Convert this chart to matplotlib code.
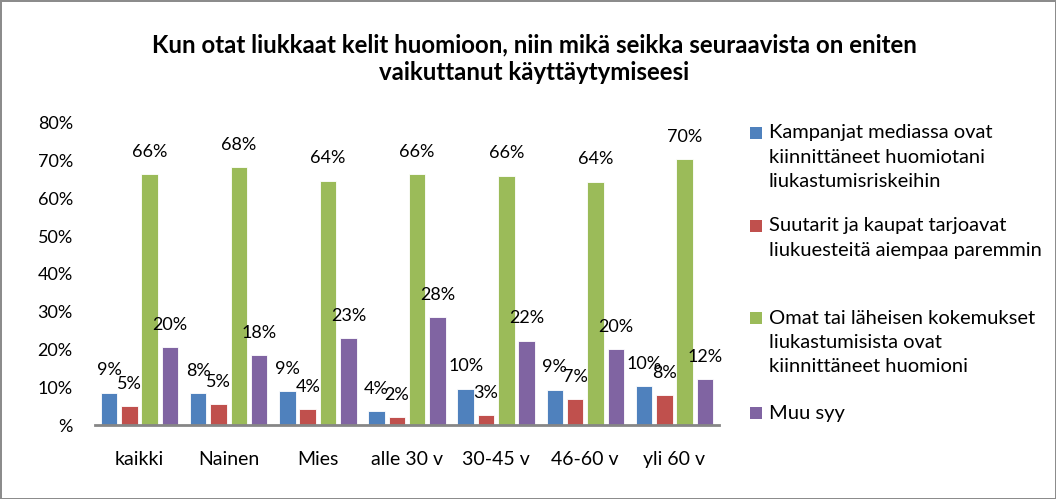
import matplotlib
matplotlib.use("Agg")
import matplotlib.pyplot as plt
from matplotlib.patches import Rectangle
import numpy as np

plt.rcParams['font.family'] = ['Lato', 'DejaVu Sans']

categories = ["kaikki", "Nainen", "Mies", "alle 30 v", "30-45 v", "46-60 v", "yli 60 v"]
series_names = [
    "Kampanjat mediassa ovat\nkiinnittäneet huomiotani\nliukastumisriskeihin",
    "Suutarit ja kaupat tarjoavat\nliukuesteitä aiempaa paremmin",
    "Omat tai läheisen kokemukset\nliukastumisista ovat\nkiinnittäneet huomioni",
    "Muu syy",
]
kampanjat = [8.6, 8.5, 8.9, 3.6, 9.6, 9.4, 10.2]
suutarit = [4.9, 5.5, 4.2, 2.1, 2.6, 6.9, 7.9]
omat = [66.5, 68.2, 64.7, 66.5, 66.0, 64.4, 70.4]
muu = [20.6, 18.5, 23.0, 28.5, 22.3, 20.0, 12.1]
labels_kampanjat = ["9%", "8%", "9%", "4%", "10%", "9%", "10%"]
labels_suutarit = ["5%", "5%", "4%", "2%", "3%", "7%", "8%"]
labels_omat = ["66%", "68%", "64%", "66%", "66%", "64%", "70%"]
labels_muu = ["20%", "18%", "23%", "28%", "22%", "20%", "12%"]
colors = ["#4F81BD", "#C0504D", "#9BBB59", "#8064A2"]
yticks = [0, 10, 20, 30, 40, 50, 60, 70, 80]
ytick_labels = ["%", "10%", "20%", "30%", "40%", "50%", "60%", "70%", "80%"]

W, H = 1056, 499
fig = plt.figure(figsize=(W / 100, H / 100), dpi=100)
fig.patch.set_facecolor("white")
fig.patch.set_edgecolor("#8C8C8C")
fig.patch.set_linewidth(2)

ax = fig.add_axes([95 / W, 1 - 425 / H, (719 - 95) / W, (425 - 122.9) / H])
x = np.arange(len(categories))
slot = 0.228
bw = 0.185
all_vals = [kampanjat, suutarit, omat, muu]
all_labels = [labels_kampanjat, labels_suutarit, labels_omat, labels_muu]
for i, (vals, labs, c) in enumerate(zip(all_vals, all_labels, colors)):
    pos = x + (i - 1.5) * slot
    bars = ax.bar(pos, vals, width=bw, color=c, edgecolor="white", linewidth=0.6, zorder=2)
    for b, lab in zip(bars, labs):
        ax.annotate(lab, (b.get_x() + b.get_width() / 2, b.get_height()),
                    xytext=(0, 12.5), textcoords="offset points",
                    ha="center", va="baseline", fontsize=13, color="black", zorder=3)

ax.set_xlim(-0.5, len(categories) - 0.5)
ax.set_ylim(0, 80)
ax.set_yticks(yticks)
ax.set_yticklabels(ytick_labels, fontsize=13)
ax.set_xticks(x)
ax.set_xticklabels(categories, fontsize=14)
ax.tick_params(axis="y", length=0, pad=16)
ax.tick_params(axis="x", length=0, pad=19)
for s in ["left", "right", "top"]:
    ax.spines[s].set_visible(False)
ax.spines["bottom"].set_color("#868686")
ax.spines["bottom"].set_linewidth(2)
ax.set_facecolor("none")

fig.text(534 / W, 1 - 45 / H,
         "Kun otat liukkaat kelit huomioon, niin mikä seikka seuraavista on eniten",
         ha="center", va="center", fontsize=17.3, fontweight="bold")
fig.text(534 / W, 1 - 73 / H, "vaikuttanut käyttäytymiseesi",
         ha="center", va="center", fontsize=17.3, fontweight="bold")

legend_tops = [133, 226, 318, 413]
line_gap = 24.5
for name, c, ty in zip(series_names, colors, legend_tops):
    fig.patches.append(Rectangle((750 / W, 1 - (ty + 6) / H), 12 / W, 12 / H,
                                 transform=fig.transFigure, facecolor=c, edgecolor="none"))
    for k, line in enumerate(name.split("\n")):
        fig.text(769 / W, 1 - (ty + k * line_gap) / H, line, ha="left", va="center",
                 fontsize=14.5)

fig.savefig("out.png", dpi=100)
